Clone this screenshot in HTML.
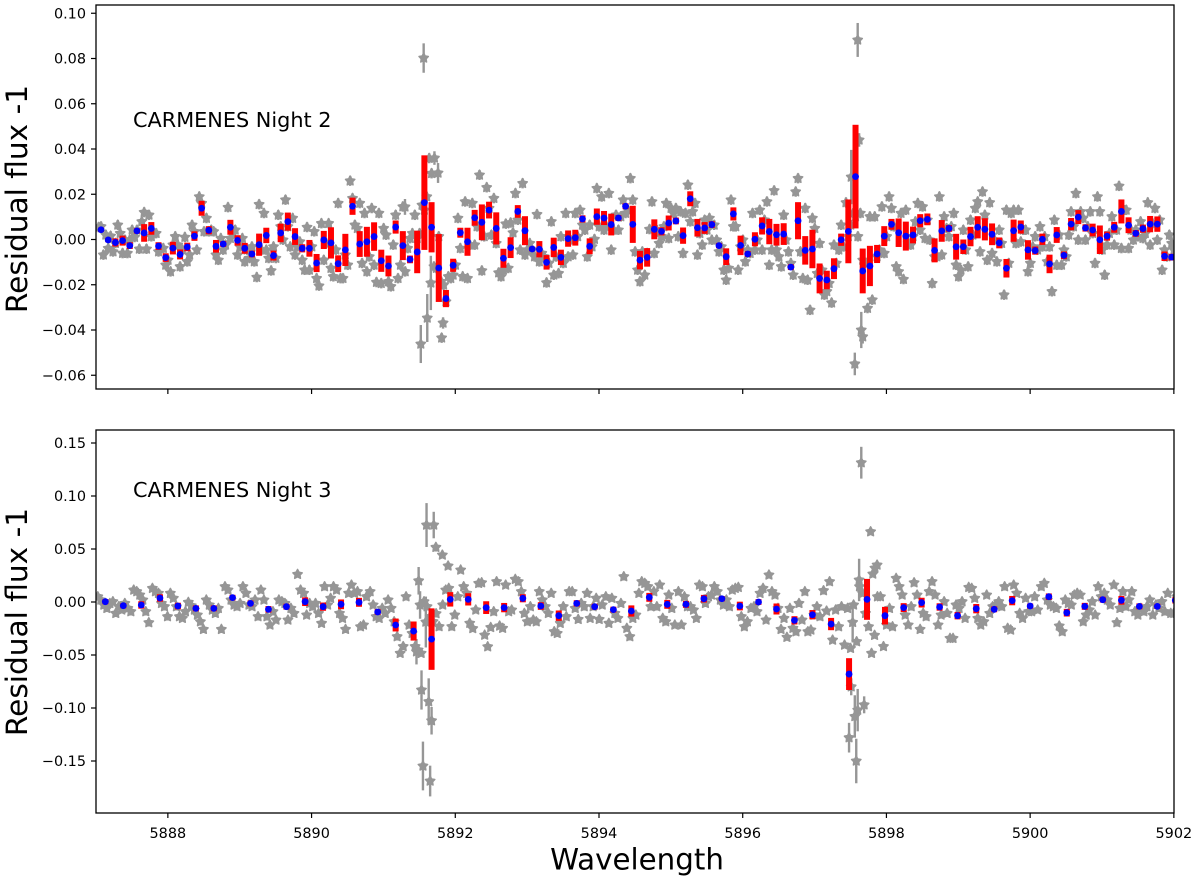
<!DOCTYPE html>
<html>
<head>
<meta charset="utf-8">
<title>CARMENES residual flux</title>
<style>
html,body{margin:0;padding:0;background:#fff;}
svg{display:block;}
text{font-family:"DejaVu Sans","Liberation Sans",sans-serif;fill:#000;}
</style>
</head>
<body>
<svg id="chart" xmlns="http://www.w3.org/2000/svg" width="1200" height="881" viewBox="0 0 1200 881">
<rect x="0" y="0" width="1200" height="881" fill="#ffffff"/>
<defs>
<clipPath id="clip-top"><rect x="96" y="5" width="1078" height="384"/></clipPath>
<clipPath id="clip-bot"><rect x="96" y="430" width="1078" height="383"/></clipPath>
</defs>
<g id="top-panel"></g>
<g id="bot-panel"></g>
<text x="637" y="869.5" font-size="29.3" text-anchor="middle">Wavelength</text>
</svg>
<script>
/* All flux arrays are in units of 10^-3 of residual flux; wavelengths in Angstrom. */
const xTicks = [5888,5890,5892,5894,5896,5898,5900,5902];
const topYTicks = [0.10,0.08,0.06,0.04,0.02,0.00,-0.02,-0.04,-0.06];
const botYTicks = [0.15,0.10,0.05,0.00,-0.05,-0.10,-0.15];

const topWave = [5887.07,5887.17,5887.27,5887.37,5887.47,5887.57,5887.67,5887.77,5887.87,5887.97,
5888.07,5888.17,5888.27,5888.37,5888.47,5888.57,5888.67,5888.77,5888.87,5888.97,
5889.07,5889.17,5889.27,5889.37,5889.47,5889.57,5889.67,5889.77,5889.87,5889.97,
5890.07,5890.17,5890.27,5890.37,5890.47,5890.57,5890.67,5890.77,5890.87,5890.97,
5891.07,5891.17,5891.27,5891.37,5891.47,5891.57,5891.67,5891.77,5891.87,5891.97,
5892.07,5892.17,5892.27,5892.37,5892.47,5892.57,5892.67,5892.77,5892.87,5892.97,
5893.07,5893.17,5893.27,5893.37,5893.47,5893.57,5893.67,5893.77,5893.87,5893.97,
5894.07,5894.17,5894.27,5894.37,5894.47,5894.57,5894.67,5894.77,5894.87,5894.97,
5895.07,5895.17,5895.27,5895.37,5895.47,5895.57,5895.67,5895.77,5895.87,5895.97,
5896.07,5896.17,5896.27,5896.37,5896.47,5896.57,5896.67,5896.77,5896.87,5896.97,
5897.07,5897.17,5897.27,5897.37,5897.47,5897.57,5897.67,5897.77,5897.87,5897.97,
5898.07,5898.17,5898.27,5898.37,5898.47,5898.57,5898.67,5898.77,5898.87,5898.97,
5899.07,5899.17,5899.27,5899.37,5899.47,5899.57,5899.67,5899.77,5899.87,5899.97,
5900.07,5900.17,5900.27,5900.37,5900.47,5900.57,5900.67,5900.77,5900.87,5900.97,
5901.07,5901.17,5901.27,5901.37,5901.47,5901.57,5901.67,5901.77,5901.87,5901.97];

const topFlux = [4.3,-0.2,-1.3,-0.5,-2.7,3.8,2.9,4.9,-2.9,-8.0,
-3.8,-6.6,-3.3,1.5,13.8,4.1,-3.0,-2.0,5.4,-0.4,
-3.9,-6.4,-2.3,1.8,-7.1,2.9,7.9,1.3,-3.9,-3.9,
-10.4,-0.2,-1.5,-10.7,-4.6,14.7,-2.0,-1.0,1.3,-9.4,
-11.7,5.5,-2.7,-8.8,-5.5,16.3,5.4,-12.6,-26.1,-11.4,
3.0,-1.0,9.6,7.6,13.0,4.9,-8.3,-3.6,12.4,3.9,
-4.2,-4.3,-10.1,-3.5,-7.9,0.4,0.8,9.1,-3.0,10.1,
9.5,6.6,9.5,14.7,6.7,-9.1,-7.9,4.5,3.6,7.3,
8.2,1.7,18.0,5.2,5.1,6.6,-2.7,-7.6,11.3,-2.6,
-6.4,0.1,6.0,3.5,2.1,2.4,-12.2,8.3,-4.8,-4.2,
-17.2,-17.9,-12.9,-0.1,3.6,27.8,-13.9,-11.7,-6.4,1.5,
6.7,3.0,1.5,2.0,8.3,8.9,-4.8,3.8,4.9,-3.2,
-3.2,1.3,5.4,4.5,2.3,-1.5,-12.7,3.9,5.5,-4.6,
-4.9,0.1,-10.8,2.0,-7.0,6.8,9.9,5.1,4.2,-0.1,
1.5,5.4,12.4,6.3,2.7,4.8,6.8,6.8,-7.4,-7.8];

const topErr = [1.0,1.0,1.8,2.2,1.5,1.2,3.9,2.8,1.7,1.9,
2.8,2.2,1.9,2.1,3.3,1.8,2.8,1.3,3.3,2.3,
2.4,1.5,4.9,3.4,2.2,4.1,4.0,3.7,1.8,3.7,
4.0,4.0,6.9,3.7,7.1,3.8,5.7,6.6,6.3,4.9,
4.6,2.9,6.4,1.7,9.4,20.9,11.1,15.0,3.8,2.9,
2.2,6.2,3.5,7.9,3.7,7.1,4.2,4.6,2.8,6.4,
1.1,3.6,3.2,4.3,3.4,3.6,3.5,1.6,3.5,3.6,
3.1,4.8,1.3,1.3,8.2,4.1,4.1,4.4,1.8,3.3,
1.5,3.6,3.3,3.9,2.6,1.5,1.2,3.7,2.9,4.3,
1.3,3.1,3.8,5.6,4.8,4.8,1.3,8.2,6.3,8.5,
6.6,4.1,4.6,2.7,14.1,22.9,9.9,8.9,4.0,4.4,
2.4,6.3,6.4,3.7,2.9,2.6,5.3,4.8,1.5,5.7,
3.2,4.3,4.9,4.9,4.8,2.4,4.1,4.9,2.9,4.3,
1.8,2.5,4.1,3.5,1.7,2.7,3.1,1.6,2.8,6.3,
2.0,2.4,5.3,3.5,1.5,1.8,3.6,3.4,2.1,1.5];

/* three individual exposures per 0.1 A bin */
const topStars = [5.4,5.7,-6.8, 2,-3.9,1.5, -5.4,-1.7,6.4, 2.7,-6.1,-0.2, -6.1,-0.2,4.2, 1,4.2,-4.2, 7.9,12,-4.2, 10.8,1.3,2.7, 2.7,-5.4,-3.9, -3.9,-11.3,-9.1,
-14.2,-2.4,1.3, -2.4,-12,-4.6, 1,-9.8,-6.8, 6.4,3.5,-4.6, 18.9,16,3.5, 9.4,3.5,4.2, 3.5,-6.8,-9.1, 0.5,-4.6,-2.4, 14.2,0.5,2.7, 4.2,-6.8,-3.2,
0.5,-9.8,-4.6, -8.3,-3.2,-9.8, -16.7,15.5,-4.6, 11.6,-4.6,-8.3, -13.8,-3.2,-8.3, 10.8,5.7,-0.2, 17.5,5.7,-3.2, 9.4,-6.8,-3.2, -1,-9.1,-13.5, 5.4,-13.5,-3.2,
3.5,-17.2,-20.5, 7.1,-9.1,-1.7, 7.1,-12.7,-16.4, -4.6,16,-17.2, -17.2,-6.8,-11.3, 25.9,18.2,6.4, 4.9,16,-10.5, 11.6,-14.2,-7.6, 13.8,-11.3,-18.9, 11.6,-19.4,4.9,
2,-18.6,-20.8, -2.4,10.8,-17.2, -11.3,14.5,-14.2, -3.9,0.5,2.7, 10.8,0.5,2.7, 15.2,13,18.9, 35.9,29.2,-12, -12.7,1.3,-18.6, -20.1,-27.5,-16.4, -17.2,-15.7,-11.3,
9.4,-3.9,-16.4, 16.7,-17.2,-2.4, 16,-2.4,5.7, 28.5,-13.8,1.3, 23,13.8,2, 18.2,-1.7,-14.7, -16.4,-13.5,6.9, -12.7,7.4,3, 20.4,8.6,-4.6, 24.8,-6.8,-4.6,
-1.7,-4.6,-7.6, 11.1,-9.8,-6.1, -7.6,-19.1,-10.5, 7.9,-15.7,-7.6, -15,1.3,-10.5, 11.6,-7.6,-0.2, -6.8,11.6,1.3, 13,6.4,4.2, -7.6,6.4,-3.2, 0.1,22.6,5.7,
18.9,4.2,5.7, 20.4,-4.6,4.2, 10.8,4.2,10.1, 17.5,11.6,13, 27,17.5,-5.4, -13.5,-18.6,-5.4, -15.7,-6.1,4.5, 16.7,-6.1,4.2, -1.7,1.3,5.7, 16,0.5,13.8,
11.6,13.8,1.3, 12.3,-6.1,11.6, 24.1,7.9,12.3, 16,-6.8,2.7, -2.4,8.6,4.2, 9.4,-0.2,6.4, -0.2,-5.4,-3.2, -13.5,-17.9,-12.7, 17.5,5.7,5.7, -13.5,-3.2,-0.2,
-9.8,-4.6,-6.1, 11.6,-4.6,-0.2, 13,-4.6,8.6, 16.7,-11.3,-4.6, 21.6,-4.6,-7.6, -12,10.8,-0.2, -5.4,-10.5,-15.7, 21.1,27,-5.4, -17.2,13.8,-17.9, -31.2,9.4,4.9,
-15,-1.7,-13.5, -24.5,-23,-19.4, -28,-2.4,-10.5, -4.6,6.4,-3.2, 16.3,1.3,6.4, 11.6,10.1,1.3, 11.6,-9.1,-10.5, -30.4,10.1,-26.7, 10.1,-7.6,-4.6, 14.5,-6.1,1.3,
18.9,13.8,5.7, -12,-14.2,11.6, -17.6,13,-1.7, -2.4,1.3,7.9, 16,4.2,14.5, 0.5,8.6,-0.2, -19.4,-7.6,-7.6, 18.9,-6.8,10.1, 4.9,1.3,5.7, 11.6,-11.3,-16.4,
-13.5,4.2,-4.6, -12,8.6,2, 13.8,16.7,-5.4, 21.1,10.8,-9.1, 16.3,-6.1,-0.2, -9.8,4.2,-1.7, -24.5,13,-10.5, 11.6,13,-1.7, 13,-1,4.2, 4.2,-14.2,-10.5,
-3.2,1.3,-4.6, 5.7,-3.2,1.3, -9.8,-3.2,-23, 8.6,-11.3,2, -11.3,-4.6,-7.6, 2,12.3,5.7, 20.4,-0.2,12.3, 9.4,-0.2,5.7, 12.3,2.7,-10.5, 18.9,12.3,-4.6,
-15.7,-2.4,2.7, 10.1,-2.4,4.2, 23.6,-3.9,13, 13,-3.9,4.2, -0.2,4.2,1.3, 7.9,0.5,2.7, 16.3,-2.4,7.1, 13.8,-0.2,8.6, -13.5,-4.6,-7.6, 2,-1.7,-4.6];

const topSpikeWave = [5891.56,5891.52,5891.61,5891.66,5891.71,5891.76,5891.30,5891.81,5891.83,5897.60,5897.56,5897.51,5897.65,5897.62,5897.67];
const topSpikeFlux = [80.2,-46.2,-34.7,-19.2,36,29.4,14.4,-43.5,-36.9,88.2,-55,27.6,-40,44,-43];
const topSpikeErr = [6.5,8.4,10.6,12,3,4.4,3.5,2.2,2.5,7.5,5,12,8,3,3];

const botWave = [5887.13,5887.38,5887.63,5887.89,5888.14,5888.39,5888.64,5888.90,5889.15,5889.40,
5889.65,5889.91,5890.16,5890.41,5890.66,5890.92,5891.17,5891.42,5891.67,5891.93,
5892.18,5892.43,5892.68,5892.94,5893.19,5893.44,5893.69,5893.94,5894.20,5894.45,
5894.70,5894.95,5895.21,5895.46,5895.71,5895.96,5896.22,5896.47,5896.72,5896.97,
5897.23,5897.48,5897.73,5897.98,5898.24,5898.49,5898.74,5898.99,5899.25,5899.50,
5899.75,5900.00,5900.26,5900.51,5900.76,5901.01,5901.27,5901.52,5901.77,5902.02];

const botFlux = [0.3,-3.5,-2.8,3.8,-3.8,-6.0,-6.0,4.1,-1.3,-6.9,
-4.4,0.3,-4.4,-2.2,-0.3,-9.4,-21.7,-27.4,-35,2.5,
2.5,-5.3,-5.3,3.5,-3.8,-12.9,-1.3,-4.4,-7.2,-8.5,
4.4,-2.2,-2.2,3.1,3.1,-3.8,0,-6.6,-17.3,-12,
-20.8,-68,2.5,-12.9,-5.3,-0.6,-4.7,-12.9,-6.3,-6.9,
1.3,-3.8,5,-10.1,-4.1,2.2,1.6,-4.1,-4.1,1.6];

const botErr = [2.4,2.5,3.5,3.5,3.1,2.8,2.8,2.7,2.8,3.1,
2.8,4.1,3.9,4.6,4.2,2.7,6.1,9.0,29,6.8,
5.8,6.0,4.4,3.8,3.6,4.9,3.0,2.8,2.8,5.3,
4.2,4.2,3.3,3.6,2.5,4.1,2.7,5.2,3.9,4.4,
5.8,15,19.3,8.3,4.2,4.6,3.5,3.5,4.4,2.8,
4.4,2.5,3.1,3.6,3.3,2.8,4.1,2.8,2.4,3];

/* six individual exposures per 0.25 A bin */
const botStars = [5,1.9,-2.8,-6,-1.3,0.3, -10.7,-4.4,-7.5,-1.3,-6,-9.1, 11.3,9.8,6.6,1.9,-9.1,-19.5, 12.9,9.8,8.2,-1.3,-4.4,-13.8, 8.2,3.5,-4.4,-13.8,-15.4,-9.1,
-0.3,-3.5,-7.5,-12.3,-18.6,-25.8, 1.9,-2.8,-7.5,-10.7,-6,-25.8, 14.5,11.3,1.9,-2.8,-4.4,-1.3, 14.5,8.2,-2.8,-4.4,1.9,-13.8, 11.3,1.9,-13.8,-21.7,-9.1,-17,
1.9,0.3,-1.3,-17,-6,-10.7, 26.1,11.3,8.2,-12.3,-1.3,-4.4, -1.3,-10.7,-20.1,14.5,-2.8,3.5, 14.5,11.3,-10.7,-15.4,-25.8,8.2, 16,8.2,9.8,-23.3,-21.7,5,
9.8,-2.8,-13.8,-15.4,-6,-10.7, 1.9,-6,-18.6,-32.7,-48.4,-42, 5,-21.7,-29.6,-42,-45.3,-48.4, 0.3,-4.4,-13.8,-18.5,-11,-23.2, -2.8,11.3,12.9,-23.2,-12.3,5,
30.2,14.5,8.2,-20,-25,-7.5, 17.6,18.2,-31.2,-42.2,-24,-9.1, 19.2,-22.6,-24.8,16,-9.1,-7.5, 21.4,19.2,9.8,-10.7,-18.6,-4.4, -17,-18.6,9.8,1.9,-4.4,-10.7,
8.2,-28,-29.6,-20.1,-4.4,-13.8, 9.8,9.8,-6,-16.4,-1.3,-4.4, 8.2,-15.4,-4.4,3.5,-16.4,-2.8, 5,-20.1,3.5,-10.7,-15.4,-1.3, 23.9,-24.8,-32.7,-15.4,-12.3,8.2,
19.2,17.6,14.5,-4.4,9.8,-4.4, 16,-15.4,-18.6,6.6,-6,-21.7, 9.8,-21.7,5,-4.4,-4.4,-7.5, -15.4,16,14.5,-1.3,5,6.6, 14.5,9.8,1.9,-2.8,1.9,-4.4,
11.3,12.9,13.8,-13.8,-23.3,-18.6, -6,-4.4,-9.1,8.2,12.9,-17, 25.5,9.8,6.6,-6,-25.8,-15.4, -33.3,-6,-24.8,-28,-1.3,-17, 9.8,-28,-26.4,-12.3,-4.4,-13.8,
10.7,-8.5,19.2,-35.9,-7.5,-23.3, -4.4,-40.6,-6,-43.7,-2.8,-37.4, 14.5,8.2,-10.7,-23.3,-48.4,-31.4, 5,5,-42,-21.7,-6,-23.3, 22.3,14.5,6.6,-12.3,-21.7,-4.4,
18.2,6.6,-25.8,-10.7,-13.8,9.8, 19.2,6.6,-21.7,-12.3,0.3,-10.7, -34.3,-34.3,-2.8,-6,0.3,-15.4, 13.8,12.9,3.5,-15.4,-21.7,-18.6, 6.6,-10.7,-4.4,-2.8,0.3,-4.4,
14.5,-24.8,-26.4,16,8.2,-10.7, -15.4,3.5,-9.1,-9.1,5,-7.5, 14.5,17.6,1.9,-2.8,-4.4,-6, -22.6,-28,1.9,-1.3,-2.8,6.6, 8.2,6.6,-18.6,-12.3,-7.5,0.3,
-12.3,14.5,5,8.2,1.9,-2.8, 16,-19.5,-6,9.8,-4.4,1.9, 9.8,-9.1,-12.3,-6,-9.1,-4.4, 1.9,-12.3,-2.8,-6,0.3,-9.1, 8.2,-10.7,-10.7,5,-2.8,-9.1];

const botSpikeWave = [5891.60,5891.70,5891.73,5891.82,5891.90,5891.49,5891.51,5891.59,5891.46,5891.53,5891.63,5891.67,5891.55,5891.65,
5897.65,5897.78,5897.87,5897.84,5897.81,5897.62,5897.53,5897.51,5897.56,5897.60,5897.69,5897.48,5897.58];
const botSpikeFlux = [72.6,72.6,51.6,44.3,34,20,-2.8,-18.9,-46.9,-83,-94,-112,-154.7,-168.9,
131.4,66.3,34.9,32,26.4,20.8,-19.2,-80,-108,-102,-97,-128,-150];
const botSpikeErr = [20.7,12.5,4,3,3,13,13,24,12,18.5,22,13,23,14.5,
15,3,2,2,2,20,19,8,20,20,8,14,21];

const SVGNS = 'http://www.w3.org/2000/svg';
const STAR_GRAY = '#969696';
const AXIS_X0 = 96, AXIS_X1 = 1174, WAVE_MIN = 5887, WAVE_MAX = 5902.002;

function xScale(w){ return AXIS_X0 + (w - WAVE_MIN) * (AXIS_X1 - AXIS_X0) / (WAVE_MAX - WAVE_MIN); }
function make(tag, parent, attrs){
  const el = document.createElementNS(SVGNS, tag);
  for (const k in attrs) el.setAttribute(k, attrs[k]);
  parent.appendChild(el);
  return el;
}
function starPoints(cx, cy, R){
  const pts = [];
  for (let i = 0; i < 10; i++){
    const r = i % 2 ? R * 0.52 : R;
    const a = -Math.PI / 2 + i * Math.PI / 5;
    pts.push((cx + r * Math.cos(a)).toFixed(2) + ',' + (cy + r * Math.sin(a)).toFixed(2));
  }
  return pts.join(' ');
}
function drawStar(group, x, y, errPx){
  const bar = make('line', group, {x1:x, x2:x, y1:y - errPx, y2:y + errPx, stroke:STAR_GRAY, 'stroke-width':2.4});
  
  
  const star = make('polygon', group, {points:starPoints(x, y, 4.9), fill:STAR_GRAY, stroke:STAR_GRAY, 'stroke-width':1.5, 'stroke-linejoin':'round'});
  
  
}
function fmt(v){ return (v < 0 ? '\u2212' : '') + Math.abs(v).toFixed(2); }

function drawPanel(cfg){
  const g = document.getElementById(cfg.id);
  const y = v => cfg.zeroY - v * cfg.pxPerUnit;
  const m = v => y(v / 1000);
  const data = make('g', g, {'clip-path':'url(#' + cfg.clip + ')'});
  
  

  /* individual exposures */
  const n = cfg.perBin;
  cfg.stars.forEach((f, i) => {
    const bin = Math.floor(i / n);
    const off = ((i % n) - (n - 1) / 2) * cfg.starStep;
    if (bin < cfg.wave.length){
      drawStar(data, xScale(cfg.wave[bin] + off), m(f), cfg.starErr * cfg.pxPerUnit / 1000);
    }
  });
  cfg.spikeWave.forEach((w, i) => {
    drawStar(data, xScale(w), m(cfg.spikeFlux[i]), cfg.spikeErr[i] * cfg.pxPerUnit / 1000);
  });

  /* binned error bars */
  cfg.wave.forEach((w, i) => {
    const top = m(cfg.flux[i] + cfg.err[i]);
    const bot = m(cfg.flux[i] - cfg.err[i]);
    const bar = make('rect', data, {x:xScale(w) - 3, y:top, width:6, height:bot - top, fill:'#ff0000'});
    
    
  });
  /* binned means */
  cfg.wave.forEach((w, i) => {
    const dot = make('circle', data, {cx:xScale(w), cy:m(cfg.flux[i]), r:3.4, fill:'#0000ff'});
    
    
  });

  /* spines */
  const frame = make('rect', g, {x:AXIS_X0, y:cfg.top, width:AXIS_X1 - AXIS_X0, height:cfg.bottom - cfg.top, fill:'none', stroke:'#000', 'stroke-width':1.3});
  
  

  /* y ticks */
  cfg.yTicks.forEach(v => {
    const py = y(v);
    const t = make('line', g, {x1:AXIS_X0 - 5, x2:AXIS_X0, y1:py, y2:py, stroke:'#000', 'stroke-width':1.2});
    
    
    const lab = make('text', g, {x:86, y:py + 5.2, 'font-size':14.4, 'text-anchor':'end'});
    
    
    lab.textContent = fmt(v);
  });

  /* x ticks */
  xTicks.forEach(v => {
    const px = xScale(v);
    const t = make('line', g, {x1:px, x2:px, y1:cfg.bottom, y2:cfg.bottom + 5, stroke:'#000', 'stroke-width':1.2});
    
    
    if (cfg.xLabels){
      const lab = make('text', g, {x:px, y:838, 'font-size':14.4, 'text-anchor':'middle'});
      
      
      lab.textContent = String(v);
    }
  });

  /* y title */
  const yt = make('text', g, {x:0, y:0, 'font-size':cfg.yTitleSize, 'text-anchor':'middle', transform:'translate(' + cfg.yTitleX + ',' + cfg.yTitleY + ') rotate(-90)'});
  
  
  yt.textContent = 'Residual flux -1';

  /* annotation */
  const note = make('text', g, {x:133, y:cfg.noteY, 'font-size':20.8});
  
  
  note.textContent = cfg.note;
}

drawPanel({id:'top-panel', clip:'clip-top', top:5, bottom:389, zeroY:239.5, pxPerUnit:2262.5,
  yTicks:topYTicks, wave:topWave, flux:topFlux, err:topErr, stars:topStars, perBin:3, starStep:0.033, starErr:2.2,
  spikeWave:topSpikeWave, spikeFlux:topSpikeFlux, spikeErr:topSpikeErr,
  xLabels:false, yTitleX:27, yTitleY:199, yTitleSize:29.6, note:'CARMENES Night 2', noteY:127});
drawPanel({id:'bot-panel', clip:'clip-bot', top:430, bottom:813, zeroY:602, pxPerUnit:1060,
  yTicks:botYTicks, wave:botWave, flux:botFlux, err:botErr, stars:botStars, perBin:6, starStep:0.042, starErr:2.5,
  spikeWave:botSpikeWave, spikeFlux:botSpikeFlux, spikeErr:botSpikeErr,
  xLabels:true, yTitleX:27, yTitleY:622, yTitleSize:29.6, note:'CARMENES Night 3', noteY:497});
</script>
</body>
</html>
